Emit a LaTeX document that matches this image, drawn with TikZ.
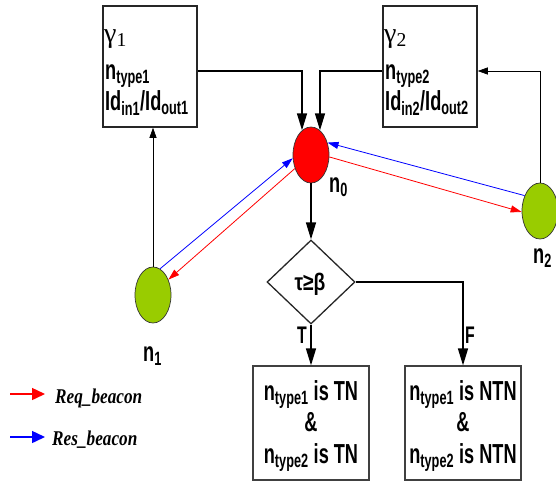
\documentclass[tikz,border=0pt]{standalone}
\usepackage{fontspec}
\setmainfont{Liberation Sans}
\newfontfamily\nar[FakeStretch=0.66]{Liberation Sans}
\newfontfamily\dnar[FakeStretch=0.8]{Liberation Sans}
\newfontfamily\ser{Liberation Serif}
\newfontfamily\sernar[FakeStretch=0.82]{Liberation Serif}
\usetikzlibrary{arrows.meta,shapes.geometric}
\definecolor{lgreen}{HTML}{99CC00}
\begin{document}
\begin{tikzpicture}[x=1pt,y=-1pt,
  box/.style={draw=black!85, line width=1.5pt, minimum width=94pt, minimum height=121pt, inner sep=0pt},
  rbox/.style={draw=black!75, line width=1.2pt, minimum width=116pt, minimum height=114pt, inner sep=0pt},
  ell/.style={ellipse, draw=black!80, line width=0.7pt, minimum width=36pt, minimum height=56pt, inner sep=0pt},
  txt/.style={font=\nar\bfseries\fontsize{27.5}{30}\selectfont, inner sep=0pt, anchor=base west},
  gtxt/.style={font=\ser\fontsize{28}{30}\selectfont, inner sep=0pt, anchor=base west},
  ctxt/.style={font=\nar\bfseries\fontsize{27.5}{30}\selectfont, inner sep=0pt, anchor=base},
  atxt/.style={font=\nar\bfseries\fontsize{24}{26}\selectfont, inner sep=0pt, anchor=base},
  ltxt/.style={font=\sernar\bfseries\itshape\fontsize{21}{24}\selectfont, inner sep=0pt, anchor=base west},
  tarr/.style={line width=1.5pt, -{Triangle[length=17pt,width=10pt]}},
  narr/.style={line width=0.7pt, -{Triangle[length=10pt,width=7pt]}},
  carr/.style={line width=0.8pt, -{Triangle[length=11pt,width=7pt]}},
  legarr/.style={line width=1.5pt, -{Triangle[length=13pt,width=12pt]}},
]
\useasboundingbox (0,0) rectangle (556,482);

% boxes
\node[box] (b1) at (150,66.5) {};
\node[box] (b2) at (430,66.5) {};
\node[gtxt] (g1) at (104,42) {γ\textsubscript{1}};
\node[txt] (t1) at (105,79) {n\textsubscript{type1}};
\node[txt] (i1) at (105,110) {Id\textsubscript{in1}/Id\textsubscript{out1}};
\node[gtxt] (g2) at (384,42) {γ\textsubscript{2}};
\node[txt] (t2) at (385,79) {n\textsubscript{type2}};
\node[txt] (i2) at (385,110) {Id\textsubscript{in2}/Id\textsubscript{out2}};

% ellipses
\node[ell, fill=red] (n0) at (311,155) {};
\node[ell, fill=lgreen] (n1) at (153,295) {};
\node[ell, fill=lgreen] (n2) at (540,211) {};
\node[txt] (l0) at (329,192) {n\textsubscript{0}};
\node[txt] (l1) at (143,361) {n\textsubscript{1}};
\node[txt] (l2) at (533,263) {n\textsubscript{2}};

% diamond
\node[diamond, draw=black!85, line width=1.3pt, minimum width=88pt, minimum height=84pt, inner sep=0pt, aspect=1] (d) at (311,282) {};
\node[font=\dnar\bfseries\fontsize{24}{26}\selectfont, inner sep=0pt, anchor=base] (dt) at (310,290) {τ≥β};

% result boxes
\node[rbox] (tn) at (311,423) {};
\node[rbox] (ntn) at (463,423) {};
\node[ctxt] (tn1) at (311,400) {n\textsubscript{type1} is TN};
\node[ctxt] (tn2) at (311,431) {\&};
\node[ctxt] (tn3) at (311,463) {n\textsubscript{type2} is TN};
\node[ctxt] (ntn1) at (463,400) {n\textsubscript{type1} is NTN};
\node[ctxt] (ntn2) at (463,431) {\&};
\node[ctxt] (ntn3) at (463,463) {n\textsubscript{type2} is NTN};

% connectors
\draw[tarr] ([yshift=-4.5pt]b1.east) -| (n0.110);
\draw[tarr] ([yshift=-4.5pt]b2.west) -| (n0.70);
\draw[narr] (n2.north) |- ([yshift=-4.5pt]b2.east);
\draw[narr] (n1.north) -- (n1.north |- b1.south);
\draw[tarr] (n0.south) -- (d.north);
\draw[tarr] (d.south) -- (tn.north);
\draw[tarr] (d.east) -| (ntn.north);
\node[atxt] (T) at (302,343) {T};
\node[atxt] (F) at (470,343) {F};

% request / response
\draw[carr, blue] (n1.75) -- (n0.190);
\draw[carr, red] (n0.220) -- (n1.45);
\draw[carr, blue] (n2.135) -- (n0.37);
\draw[carr, red] (n0.-6) -- (n2.183);

% legend
\coordinate (ra) at (10,394);
\coordinate (rb) at (45,394);
\coordinate (ba) at (10,437);
\coordinate (bb) at (45,437);
\draw[legarr, red] (ra) -- (rb);
\draw[legarr, blue] (ba) -- (bb);
\node[ltxt] (lr) at (55,403) {Req\_beacon};
\node[ltxt] (lb) at (52,445) {Res\_beacon};
\end{tikzpicture}
\end{document}
